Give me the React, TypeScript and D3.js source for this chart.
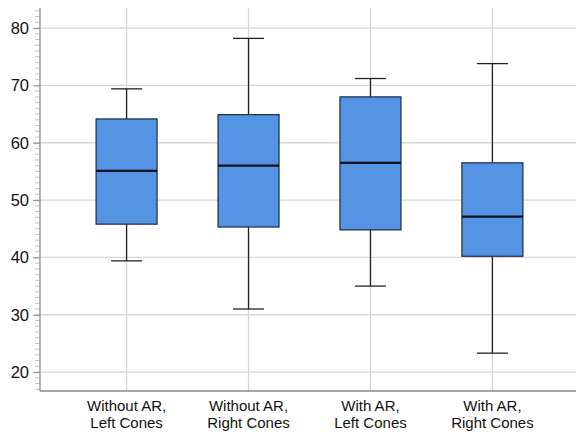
import React, { useEffect, useRef } from "react";
import * as d3 from "d3";

const categories = [
  ["Without AR,", "Left Cones"],
  ["Without AR,", "Right Cones"],
  ["With AR,", "Left Cones"],
  ["With AR,", "Right Cones"],
];
const whiskerLow = [39.4, 31.0, 35.0, 23.3];
const q1 = [45.8, 45.3, 44.8, 40.2];
const medians = [55.1, 56.0, 56.5, 47.1];
const q3 = [64.15, 64.9, 68.0, 56.5];
const whiskerHigh = [69.4, 78.2, 71.2, 73.8];
const yTicks = [20, 30, 40, 50, 60, 70, 80];

const App = () => {
  const ref = useRef<SVGSVGElement>(null);

  useEffect(() => {
    const svg = d3.select(ref.current);
    svg.selectAll("*").remove();

    const left = 40, top = 8, bottom = 391, right = 579;
    const keys = categories.map((c) => c.join(" "));

    const x = d3.scalePoint().domain(keys).range([left, right]).padding(0.71);
    const y = d3.scaleLinear().domain([16.7, 83.5]).range([bottom, top]);

    const boxW = 61, capW = 31;

    // grid
    svg.append("g")
      .selectAll("line")
      .data(yTicks)
      .join("line")
      .attr("x1", left).attr("x2", 576)
      .attr("y1", (d) => y(d)).attr("y2", (d) => y(d))
      .attr("stroke", "#d6d6d6").attr("stroke-width", 1.3);

    svg.append("g")
      .selectAll("line")
      .data(keys)
      .join("line")
      .attr("x1", (d) => x(d)!).attr("x2", (d) => x(d)!)
      .attr("y1", top).attr("y2", bottom)
      .attr("stroke", "#d6d6d6").attr("stroke-width", 1.3);

    // minor ticks
    svg.append("g")
      .selectAll("line")
      .data(d3.range(17, 84))
      .join("line")
      .attr("x1", 35).attr("x2", left)
      .attr("y1", (d) => y(d)).attr("y2", (d) => y(d))
      .attr("stroke", "#c4c4c4").attr("stroke-width", 1);

    // major ticks + labels
    const yAxis = svg.append("g")
      .attr("transform", `translate(${left},0)`)
      .call(d3.axisLeft(y).tickValues(yTicks).tickSize(7).tickPadding(4).tickFormat(d3.format("d")));
    yAxis.attr("font-size", 16.5).attr("font-family", "Liberation Sans, Arial, sans-serif");
    yAxis.select(".domain").remove();
    yAxis.selectAll(".tick line").attr("stroke", "#8a8a8a");
    yAxis.selectAll(".tick text").attr("fill", "#111");

    // axes lines
    svg.append("line")
      .attr("x1", left).attr("x2", left).attr("y1", top).attr("y2", bottom)
      .attr("stroke", "#8a8a8a").attr("stroke-width", 1.3);
    svg.append("line")
      .attr("x1", left).attr("x2", 576).attr("y1", bottom).attr("y2", bottom)
      .attr("stroke", "#8a8a8a").attr("stroke-width", 1.3);

    const g = svg.append("g")
      .selectAll("g")
      .data(keys)
      .join("g");

    // whiskers
    g.append("line")
      .attr("x1", (d) => x(d)!).attr("x2", (d) => x(d)!)
      .attr("y1", (d, i) => y(whiskerHigh[i])).attr("y2", (d, i) => y(q3[i]))
      .attr("stroke", "#222").attr("stroke-width", 1.3);
    g.append("line")
      .attr("x1", (d) => x(d)!).attr("x2", (d) => x(d)!)
      .attr("y1", (d, i) => y(whiskerLow[i])).attr("y2", (d, i) => y(q1[i]))
      .attr("stroke", "#222").attr("stroke-width", 1.3);
    g.append("line")
      .attr("x1", (d) => x(d)! - capW / 2).attr("x2", (d) => x(d)! + capW / 2)
      .attr("y1", (d, i) => y(whiskerHigh[i])).attr("y2", (d, i) => y(whiskerHigh[i]))
      .attr("stroke", "#222").attr("stroke-width", 1.3);
    g.append("line")
      .attr("x1", (d) => x(d)! - capW / 2).attr("x2", (d) => x(d)! + capW / 2)
      .attr("y1", (d, i) => y(whiskerLow[i])).attr("y2", (d, i) => y(whiskerLow[i]))
      .attr("stroke", "#222").attr("stroke-width", 1.3);

    // boxes
    g.append("rect")
      .attr("x", (d) => x(d)! - boxW / 2)
      .attr("width", boxW)
      .attr("y", (d, i) => y(q3[i]))
      .attr("height", (d, i) => y(q1[i]) - y(q3[i]))
      .attr("fill", "#5593e3")
      .attr("stroke", "#1c2a4a")
      .attr("stroke-width", 1.2);

    // medians
    g.append("line")
      .attr("x1", (d) => x(d)! - boxW / 2).attr("x2", (d) => x(d)! + boxW / 2)
      .attr("y1", (d, i) => y(medians[i])).attr("y2", (d, i) => y(medians[i]))
      .attr("stroke", "#0a0f1e").attr("stroke-width", 2.2);

    // category labels, two lines each
    [0, 1].forEach((line) => {
      svg.append("g")
        .selectAll("text")
        .data(categories)
        .join("text")
        .attr("x", (d, i) => x(keys[i])!)
        .attr("y", line === 0 ? 411 : 428)
        .attr("text-anchor", "middle")
        .attr("fill", "#111")
        .style("font-family", "Liberation Sans, Arial, sans-serif")
        .style("font-size", "15px")
        .text((d) => d[line]);
    });
  }, []);

  return (
    <svg ref={ref} width={576} height={432} style={{ position: "absolute", left: 0, top: 0, background: "#fff" }} />
  );
};

export default App;
